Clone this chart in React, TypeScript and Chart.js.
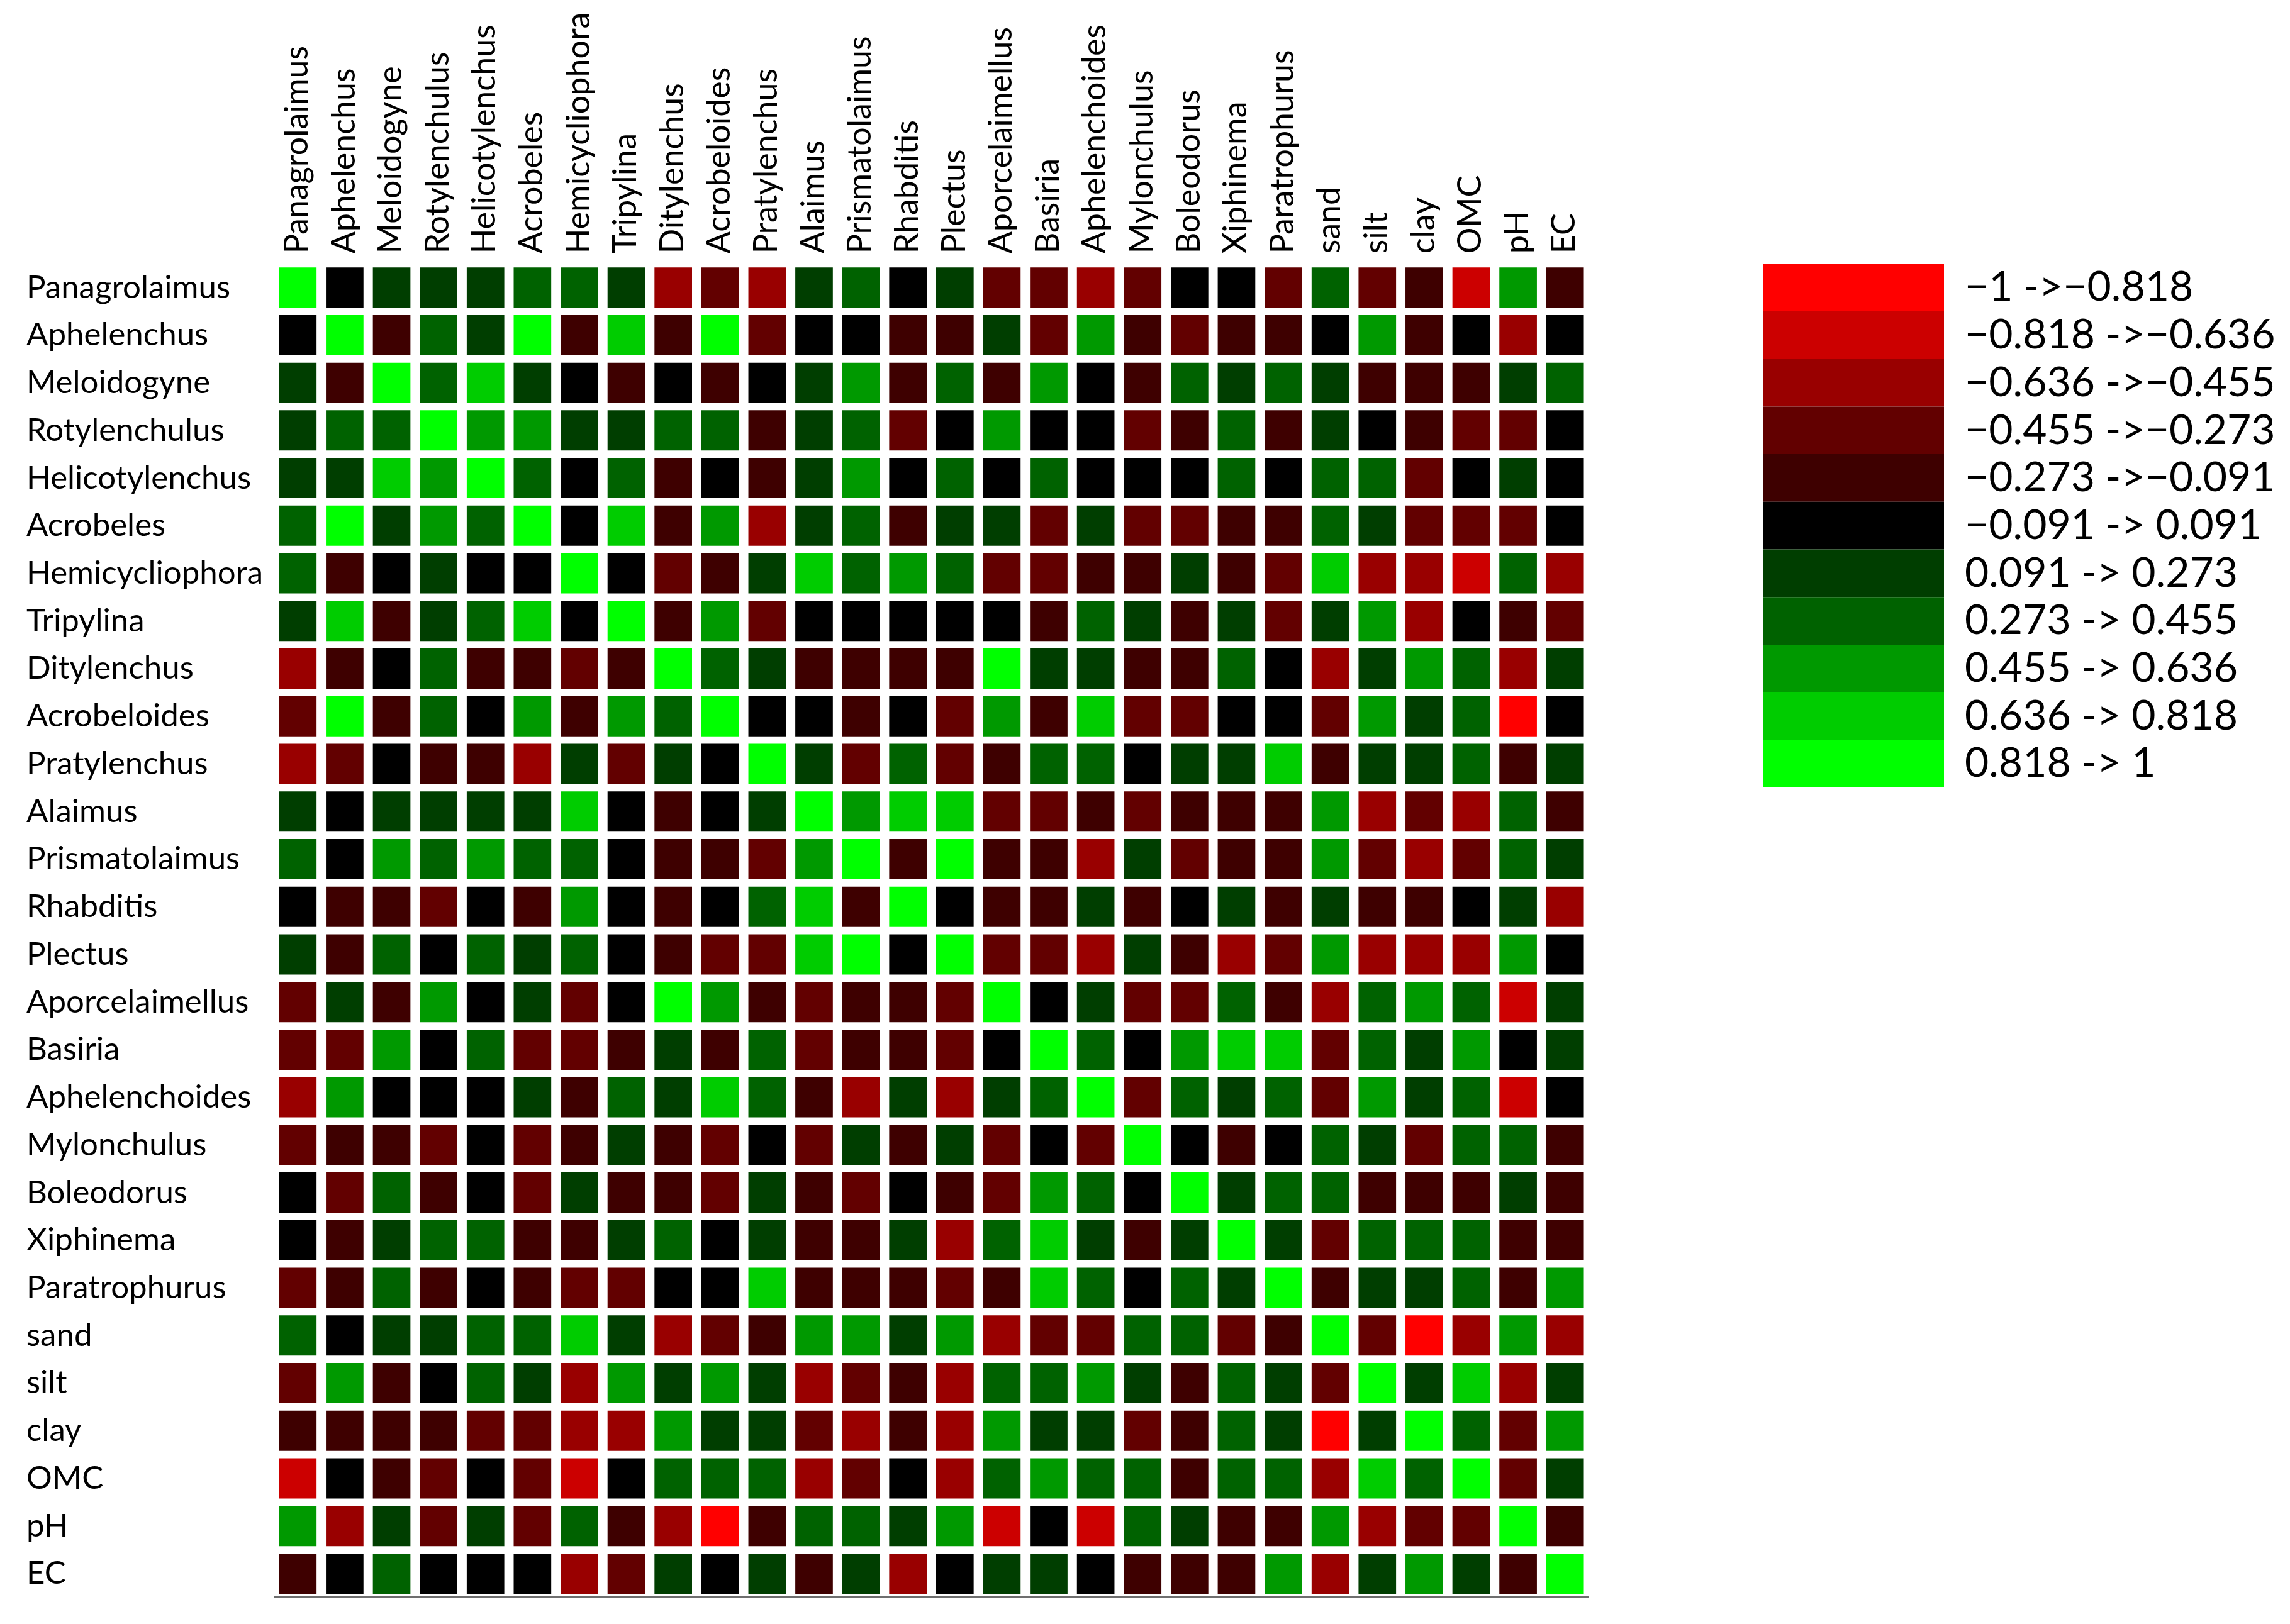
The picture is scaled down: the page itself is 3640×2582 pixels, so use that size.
import { useEffect, useRef } from "react";
import { Chart, registerables } from "chart.js";

Chart.register(...registerables);

const variables = [
  "Panagrolaimus", "Aphelenchus", "Meloidogyne", "Rotylenchulus", "Helicotylenchus",
  "Acrobeles", "Hemicycliophora", "Tripylina", "Ditylenchus", "Acrobeloides",
  "Pratylenchus", "Alaimus", "Prismatolaimus", "Rhabditis", "Plectus",
  "Aporcelaimellus", "Basiria", "Aphelenchoides", "Mylonchulus", "Boleodorus",
  "Xiphinema", "Paratrophurus", "sand", "silt", "clay", "OMC", "pH", "EC",
];

// class boundaries of the correlation coefficient
const classEdges = [-1, -0.818, -0.636, -0.455, -0.273, -0.091, 0.091, 0.273, 0.455, 0.636, 0.818, 1];
const classLabels = [
  "−1 ->−0.818", "−0.818 ->−0.636", "−0.636 ->−0.455", "−0.455 ->−0.273",
  "−0.273 ->−0.091", "−0.091 -> 0.091", "0.091 -> 0.273", "0.273 -> 0.455",
  "0.455 -> 0.636", "0.636 -> 0.818", "0.818 -> 1",
];
const classColors = [
  "#ff0000", "#cc0000", "#990000", "#620000", "#3e0000", "#000000",
  "#003e00", "#006200", "#009900", "#00cc00", "#00ff00",
];

// correlation class of each cell, -5 (strong negative) .. +5 (strong positive)
const corrClass = [
  [5, 0, 1, 1, 1, 2, 2, 1, -3, -2, -3, 1, 2, 0, 1, -2, -2, -3, -2, 0, 0, -2, 2, -2, -1, -4, 3, -1],
  [0, 5, -1, 2, 1, 5, -1, 4, -1, 5, -2, 0, 0, -1, -1, 1, -2, 3, -1, -2, -1, -1, 0, 3, -1, 0, -3, 0],
  [1, -1, 5, 2, 4, 1, 0, -1, 0, -1, 0, 1, 3, -1, 2, -1, 3, 0, -1, 2, 1, 2, 1, -1, -1, -1, 1, 2],
  [1, 2, 2, 5, 3, 3, 1, 1, 2, 2, -1, 1, 2, -2, 0, 3, 0, 0, -2, -1, 2, -1, 1, 0, -1, -2, -2, 0],
  [1, 1, 4, 3, 5, 2, 0, 2, -1, 0, -1, 1, 3, 0, 2, 0, 2, 0, 0, 0, 2, 0, 2, 2, -2, 0, 1, 0],
  [2, 5, 1, 3, 2, 5, 0, 4, -1, 3, -3, 1, 2, -1, 1, 1, -2, 1, -2, -2, -1, -1, 2, 1, -2, -2, -2, 0],
  [2, -1, 0, 1, 0, 0, 5, 0, -2, -1, 1, 4, 2, 3, 2, -2, -2, -1, -1, 1, -1, -2, 4, -3, -3, -4, 2, -3],
  [1, 4, -1, 1, 2, 4, 0, 5, -1, 3, -2, 0, 0, 0, 0, 0, -1, 2, 1, -1, 1, -2, 1, 3, -3, 0, -1, -2],
  [-3, -1, 0, 2, -1, -1, -2, -1, 5, 2, 1, -1, -1, -1, -1, 5, 1, 1, -1, -1, 2, 0, -3, 1, 3, 2, -3, 1],
  [-2, 5, -1, 2, 0, 3, -1, 3, 2, 5, 0, 0, -1, 0, -2, 3, -1, 4, -2, -2, 0, 0, -2, 3, 1, 2, -5, 0],
  [-3, -2, 0, -1, -1, -3, 1, -2, 1, 0, 5, 1, -2, 2, -2, -1, 2, 2, 0, 1, 1, 4, -1, 1, 1, 2, -1, 1],
  [1, 0, 1, 1, 1, 1, 4, 0, -1, 0, 1, 5, 3, 4, 4, -2, -2, -1, -2, -1, -1, -1, 3, -3, -2, -3, 2, -1],
  [2, 0, 3, 2, 3, 2, 2, 0, -1, -1, -2, 3, 5, -1, 5, -1, -1, -3, 1, -2, -1, -1, 3, -2, -3, -2, 2, 1],
  [0, -1, -1, -2, 0, -1, 3, 0, -1, 0, 2, 4, -1, 5, 0, -1, -1, 1, -1, 0, 1, -1, 1, -1, -1, 0, 1, -3],
  [1, -1, 2, 0, 2, 1, 2, 0, -1, -2, -2, 4, 5, 0, 5, -2, -2, -3, 1, -1, -3, -2, 3, -3, -3, -3, 3, 0],
  [-2, 1, -1, 3, 0, 1, -2, 0, 5, 3, -1, -2, -1, -1, -2, 5, 0, 1, -2, -2, 2, -1, -3, 2, 3, 2, -4, 1],
  [-2, -2, 3, 0, 2, -2, -2, -1, 1, -1, 2, -2, -1, -1, -2, 0, 5, 2, 0, 3, 4, 4, -2, 2, 1, 3, 0, 1],
  [-3, 3, 0, 0, 0, 1, -1, 2, 1, 4, 2, -1, -3, 1, -3, 1, 2, 5, -2, 2, 1, 2, -2, 3, 1, 2, -4, 0],
  [-2, -1, -1, -2, 0, -2, -1, 1, -1, -2, 0, -2, 1, -1, 1, -2, 0, -2, 5, 0, -1, 0, 2, 1, -2, 2, 2, -1],
  [0, -2, 2, -1, 0, -2, 1, -1, -1, -2, 1, -1, -2, 0, -1, -2, 3, 2, 0, 5, 1, 2, 2, -1, -1, -1, 1, -1],
  [0, -1, 1, 2, 2, -1, -1, 1, 2, 0, 1, -1, -1, 1, -3, 2, 4, 1, -1, 1, 5, 1, -2, 2, 2, 2, -1, -1],
  [-2, -1, 2, -1, 0, -1, -2, -2, 0, 0, 4, -1, -1, -1, -2, -1, 4, 2, 0, 2, 1, 5, -1, 1, 1, 2, -1, 3],
  [2, 0, 1, 1, 2, 2, 4, 1, -3, -2, -1, 3, 3, 1, 3, -3, -2, -2, 2, 2, -2, -1, 5, -2, -5, -3, 3, -3],
  [-2, 3, -1, 0, 2, 1, -3, 3, 1, 3, 1, -3, -2, -1, -3, 2, 2, 3, 1, -1, 2, 1, -2, 5, 1, 4, -3, 1],
  [-1, -1, -1, -1, -2, -2, -3, -3, 3, 1, 1, -2, -3, -1, -3, 3, 1, 1, -2, -1, 2, 1, -5, 1, 5, 2, -2, 3],
  [-4, 0, -1, -2, 0, -2, -4, 0, 2, 2, 2, -3, -2, 0, -3, 2, 3, 2, 2, -1, 2, 2, -3, 4, 2, 5, -2, 1],
  [3, -3, 1, -2, 1, -2, 2, -1, -3, -5, -1, 2, 2, 1, 3, -4, 0, -4, 2, 1, -1, -1, 3, -3, -2, -2, 5, -1],
  [-1, 0, 2, 0, 0, 0, -3, -2, 1, 0, 1, -1, 1, -3, 0, 1, 1, 0, -1, -1, -1, 3, -3, 1, 3, 1, -1, 5],
];

const WIDTH = 3640;
const HEIGHT = 2582;
const FONT = "Lato";
const LEGEND_FONT = 66;
const LEGEND_BOX_W = 288;
const LEGEND_BOX_H = 75.7;
const CELL_HALF = 0.4225;

export default function App() {
  const ref = useRef<HTMLCanvasElement | null>(null);

  useEffect(() => {
    const canvas = ref.current;
    if (!canvas) return;

    // measure the legend so that the layout lands where the reference has it
    const mctx = document.createElement("canvas").getContext("2d")!;
    mctx.font = `normal ${LEGEND_FONT}px ${FONT}`;
    const maxText = Math.max(...classLabels.map((t) => mctx.measureText(t).width));
    const legendW = LEGEND_BOX_W + LEGEND_FONT / 2 + maxText;
    const legendLeft = 2812;
    const plotLeft = 436;
    const plotRight = 2535;
    const plotTop = 419.3;
    const plotBottom = 2539.8;
    const padLeft = 42;
    const padRight = Math.max(0, WIDTH - legendLeft - legendW);
    const spacer = WIDTH - padRight - legendW - plotRight;

    const datasets = corrClass.map((row, i) => ({
      label: variables[i],
      data: row.map(() => [i - CELL_HALF, i + CELL_HALF]),
      backgroundColor: row.map((c) => classColors[c + 5]),
      borderWidth: 0,
      grouped: false,
      barPercentage: 0.8,
      categoryPercentage: 1,
      xAxisID: "x",
      yAxisID: "y",
    }));

    const chart = new Chart(canvas, {
      type: "bar",
      data: { labels: variables, datasets: datasets as any },
      options: {
        responsive: false,
        animation: false,
        events: [],
        font: { family: FONT },
        layout: {
          padding: { left: padLeft, top: 0, right: padRight, bottom: HEIGHT - plotBottom },
        },
        plugins: {
          tooltip: { enabled: false },
          legend: {
            display: true,
            position: "right",
            align: "start",
            fullSize: false,
            maxWidth: 2000,
            onClick: () => {},
            labels: {
              boxWidth: LEGEND_BOX_W,
              boxHeight: LEGEND_BOX_H,
              padding: 0,
              color: "#000",
              font: { family: FONT, size: LEGEND_FONT },
              generateLabels: () =>
                classLabels.map((text, k) => ({
                  text,
                  fillStyle: classColors[k],
                  strokeStyle: classColors[k],
                  fontColor: "#000",
                  lineWidth: 0,
                  hidden: false,
                  index: k,
                })),
            },
          },
        },
        scales: {
          x: {
            type: "category",
            position: "top",
            offset: true,
            grid: { display: false, drawTicks: false },
            border: { display: false },
            ticks: {
              autoSkip: false,
              minRotation: 90,
              maxRotation: 90,
              padding: 16,
              color: "#000",
              font: { family: FONT, size: 52, lineHeight: 0.02 },
            },
            afterFit: (s: any) => {
              s.height = plotTop;
            },
          },
          xb: {
            type: "category",
            position: "bottom",
            labels: variables,
            offset: true,
            grid: { display: false, drawTicks: false },
            border: { display: true, color: "#6e6e6e", width: 3 },
            ticks: { display: false },
            afterFit: (s: any) => {
              s.height = 0;
            },
          },
          y: {
            type: "linear",
            position: "left",
            min: -0.5,
            max: 27.5,
            reverse: true,
            grid: { display: false, drawTicks: false },
            border: { display: false },
            afterBuildTicks: (s: any) => {
              s.ticks = variables.map((_, i) => ({ value: i }));
            },
            ticks: {
              autoSkip: false,
              crossAlign: "far",
              padding: 0,
              color: "#000",
              font: { family: FONT, size: 51 },
              callback: (v: any) => variables[Math.round(Number(v))] ?? "",
            },
            afterFit: (s: any) => {
              s.width = plotLeft - padLeft;
            },
          },
          y2: {
            type: "linear",
            position: "right",
            display: true,
            grid: { display: false, drawTicks: false },
            border: { display: false },
            ticks: { display: false },
            afterFit: (s: any) => {
              s.width = spacer;
            },
          },
        },
      } as any,
    });

    return () => chart.destroy();
  }, []);

  return (
    <div style={{ position: "absolute", left: 0, top: 0, width: WIDTH, height: HEIGHT, background: "#fff" }}>
      <canvas ref={ref} width={WIDTH} height={HEIGHT} style={{ display: "block", width: WIDTH, height: HEIGHT }} />
    </div>
  );
}
